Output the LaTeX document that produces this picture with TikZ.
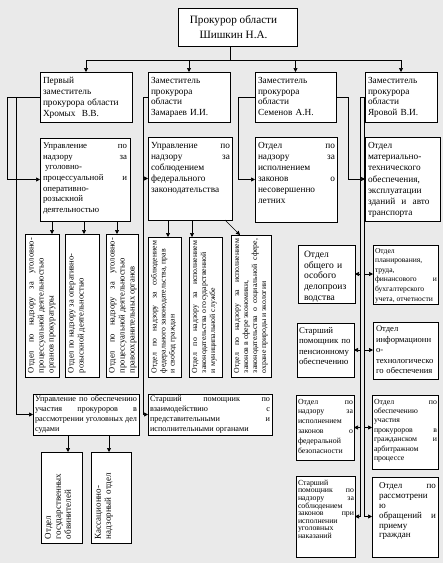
\documentclass[tikz,border=0pt]{standalone}
\usepackage{fontspec}
\setmainfont{Liberation Serif}
\usetikzlibrary{arrows.meta,calc}
\definecolor{bgc}{RGB}{234,234,234}
\newcommand\fs[2]{\fontsize{#1}{#2}\selectfont}
\tikzset{
  frame/.style={draw, fill=white, line width=0.7pt, inner sep=0pt, outer sep=0pt},
  txt/.style={inner sep=0pt, outer sep=0pt, align=left, font=\fs{9}{10.5}},
  jt/.style={txt, align=justify},
  ln/.style={line width=0.7pt},
  arr/.style={line width=0.7pt, -{Triangle[length=4pt,width=4pt]}},
}
\newcommand\bx[5]{\node[frame, anchor=north west, minimum width={(#4-#2)*1pt}, minimum height={(#5-#3)*1pt}] (#1) at (#2,#3) {};}
\newcommand\tx[4]{\node[txt, anchor=north west, #3] (#1-t) at ($(#1.north west)+#2$) {#4};}
\newcommand\rtx[4]{\node[txt, rotate=90, anchor=north west, #3] (#1-t) at ($(#1.south west)+#2$) {#4};}
\begin{document}
\begin{tikzpicture}[x=1pt,y=-1pt]
\fill[bgc] (0,0) rectangle (443,563);
\useasboundingbox (0,0) rectangle (443,563);
% boxes
\bx{top}{178}{8}{297}{46}
\bx{D1}{40}{72}{132}{122}
\bx{D2}{148}{72}{230}{122}
\bx{D3}{255}{72}{336}{122}
\bx{D4}{365}{72}{437}{122}
\bx{U1}{40}{138}{130}{221}
\bx{U2}{148}{137}{232}{220}
\bx{U3}{255}{137}{337}{222}
\bx{U4}{365}{137}{440}{221}
\bx{a}{25}{234}{59}{377}
\bx{b}{65}{234}{99}{377}
\bx{c}{106}{234}{138}{377}
\bx{d}{148}{237}{181}{377}
\bx{e}{189}{237}{222}{377}
\bx{f}{231}{235}{271}{377}
\bx{B1}{33}{394}{139}{435}
\bx{B2}{148}{394}{272}{435}
\bx{g}{41}{452}{82}{543}
\bx{h}{91}{452}{131}{543}
\bx{L1}{298}{245}{355}{303}
\bx{R1}{373}{245}{438}{304}
\bx{L2}{297}{323}{354}{377}
\bx{R2}{373}{322}{438}{379}
\bx{L3}{296}{395}{354}{460}
\bx{R3}{372}{395}{438}{469}
\bx{L4}{296}{476}{355}{557}
\bx{R4}{372}{477}{438}{557}
% texts
\node[txt, align=center, font=\fs{11.2}{14.5}] (top-t) at ($(top.center)+(-4,0)$) {Прокурор области\\Шишкин Н.А.};
\tx{D1}{(3,5)}{font=\fs{9.3}{10.9}, text width=88pt}{Первый\\заместитель\\прокурора области\\Хромых\ \ В.В.}
\tx{D2}{(3,5)}{font=\fs{9.3}{10.9}, text width=78pt}{Заместитель\\прокурора\\области\\Замараев И.И.}
\tx{D3}{(3,5)}{font=\fs{9.3}{10.9}, text width=76pt}{Заместитель\\прокурора\\области\\Семенов А.Н.}
\tx{D4}{(3,5)}{font=\fs{9.3}{10.9}, text width=68pt}{Заместитель\\прокурора\\области\\Яровой В.И.}
\tx{U1}{(3,5)}{jt, font=\fs{8.8}{10.6}, text width=84pt}{Управление по\linebreak надзору за\linebreak\hspace*{2pt}уголовно-\linebreak процессуальной и\linebreak оперативно-\newline розыскной\newline деятельностью}
\tx{U2}{(3,5)}{jt, font=\fs{9.3}{11}, text width=79pt}{Управление по\linebreak надзору за\linebreak соблюдением\newline федерального\newline законодательства}
\tx{U3}{(3,5)}{jt, font=\fs{9.3}{11}, text width=77pt}{Отдел по\linebreak надзору за\linebreak исполнением\newline законов о\linebreak несовершенно\newline летних}
\tx{U4}{(3,5)}{font=\fs{9.3}{11.3}, text width=72pt}{Отдел\\материально-\\технического\\обеспечения,\\эксплуатации\\зданий\ \ и\ \ авто\\транспорта}
\rtx{a}{(3,-4)}{jt, font=\fs{8.5}{10}, text width=135pt}{Отдел по надзору за уголовно-\linebreak процессуальной деятельностью\newline органов прокуратуры}
\rtx{b}{(3,-4)}{jt, font=\fs{8.5}{10}, text width=135pt}{Отдел по надзору за оперативно-\newline розыскной деятельностью}
\rtx{c}{(3,-4)}{jt, font=\fs{8.5}{10}, text width=135pt}{Отдел по надзору за уголовно-\linebreak процессуальной деятельностью\newline правоохранительных органов}
\rtx{d}{(3,-4)}{jt, font=\fs{7.8}{9}, text width=132pt}{Отдел по надзору за соблюдением\linebreak федерального законодательства, прав\newline и свобод граждан}
\rtx{e}{(3,-4)}{jt, font=\fs{7.8}{9}, text width=132pt}{Отдел по надзору за исполнением\linebreak законодательства о государственной\newline и муниципальной службе}
\rtx{f}{(3,-4)}{jt, font=\fs{7.8}{9}, text width=134pt}{Отдел по надзору за исполнением\linebreak законов в сфере экономики,\newline законодательства о социальной сфере,\linebreak охране природы и экологии}
\tx{B1}{(2,2)}{jt, font=\fs{8.2}{9.8}, text width=102pt}{Управление по обеспечению\linebreak участия прокуроров в\linebreak рассмотрении уголовных дел\linebreak судами}
\tx{B2}{(2,2)}{jt, font=\fs{8.2}{9.8}, text width=120pt}{Старший помощник по\linebreak взаимодействию с\linebreak представительными и\linebreak исполнительными органами}
\rtx{g}{(4,-4)}{txt, font=\fs{9}{10}, text width=84pt}{Отдел\\государственных\\обвинителей}
\rtx{h}{(4,-4)}{txt, font=\fs{9}{10}, text width=84pt}{Кассационно-\\надзорный отдел}
\tx{L1}{(6,6)}{font=\fs{9.6}{10.8}, text width=50pt}{Отдел\\общего и\\особого\\делопроиз\\водства}
\tx{R1}{(2,3)}{jt, font=\fs{7.6}{9.6}, text width=62pt}{Отдел\newline планирования,\newline труда,\newline финансового и\linebreak бухгалтерского\newline учета, отчетности}
\tx{L2}{(2,4)}{font=\fs{8.8}{10.5}, text width=56pt}{Старший\\помощник по\\пенсионному\\обеспечению}
\tx{R2}{(3,4)}{font=\fs{8.6}{10.5}, text width=63pt}{Отдел\\информационн\\о-\\технологическо\\го обеспечения}
\tx{L3}{(2,4)}{jt, font=\fs{7.8}{9.8}, text width=55pt}{Отдел по\linebreak надзору за\linebreak исполнением\newline законов о\linebreak федеральной\newline безопасности}
\tx{R3}{(2,4)}{jt, font=\fs{7.8}{9.4}, text width=63pt}{Отдел по\linebreak обеспечению\newline участия\newline прокуроров в\linebreak гражданском и\linebreak арбитражном\newline процессе}
\tx{L4}{(2,4)}{jt, font=\fs{7.8}{7.6}, text width=56pt}{Старший\newline помощник по\linebreak надзору за\linebreak соблюдением\newline законов при\linebreak исполнении\newline уголовных\newline наказаний}
\tx{R4}{(7,6)}{jt, font=\fs{9}{9.8}, text width=57pt}{Отдел по\linebreak рассмотрени\newline ю\newline обращений и\linebreak приему\newline граждан}
% connectors
\coordinate (t0) at (230,60);
\draw[ln] ($(top.south west)+(52,0)$) -- (t0);
\draw[ln] (D1.north |- t0) -- (D4.north |- t0);
\foreach \n in {D1,D2,D3,D4} \draw[arr] (\n.north |- t0) -- (\n.north);
\coordinate (k1) at (7,97);
\coordinate (k2) at (16,97);
\coordinate (k3) at (143,97);
\coordinate (k4) at (238,97);
\coordinate (k5) at (348,97);
\coordinate (k6) at (360,97);
\coordinate (k7) at (364,97);
\draw[ln] (D1.west) -- (k1);
\draw[arr] (k1) -- (k1 |- U1.west) -- (U1.west);
\draw[arr] (k2) -- (k2 |- B1.west) -- (B1.west);
\draw[ln] (D2.west) -- (k3);
\draw[arr] (k3) -- (k3 |- U2.west) -- (U2.west);
\draw[arr] (k3) -- (k3 |- B2.west) -- (B2.west);
\draw[ln] (D3.west) -- (k4);
\draw[arr] (k4) -- (k4 |- U3.west) -- (U3.west);
\draw[ln] (D3.east) -- (k5);
\draw[arr] (k5) -- (k5 |- U4.west) -- (U4.west);
\draw[ln] (D4.west) -- (k6);
\draw[ln] (k6) -- (k6 |- L4.east);
\draw[ln] (k7) -- (k7 |- L4.east);
\foreach \l/\r in {L1/R1,L2/R2,L3/R3,L4/R4}{
  \draw[arr] (k6 |- \l.east) -- (\l.east);
  \draw[arr] (k7 |- \l.east) -- (\r.west |- \l.east);
}
\draw[arr] ($(U1.south west)+(12,0)$) -- ($(a.north west)+(27,0)$);
\draw[arr] ($(U1.south west)+(44,0)$) -- ($(b.north west)+(19,0)$);
\draw[arr] ($(U1.south west)+(77,0)$) -- ($(c.north west)+(11,0)$);
\draw[arr] ($(U2.south west)+(20,0)$) -- ($(d.north west)+(20,0)$);
\draw[arr] ($(U2.south west)+(44,0)$) -- ($(e.north west)+(3,0)$);
\draw[arr] ($(U2.south west)+(77,0)$) -- ($(f.north west)+(9,0)$);
\draw[arr] ($(B1.south west)+(35,0)$) -- ($(g.north west)+(27,0)$);
\draw[arr] ($(B1.south west)+(76,0)$) -- ($(h.north west)+(18,0)$);
\end{tikzpicture}
\end{document}
